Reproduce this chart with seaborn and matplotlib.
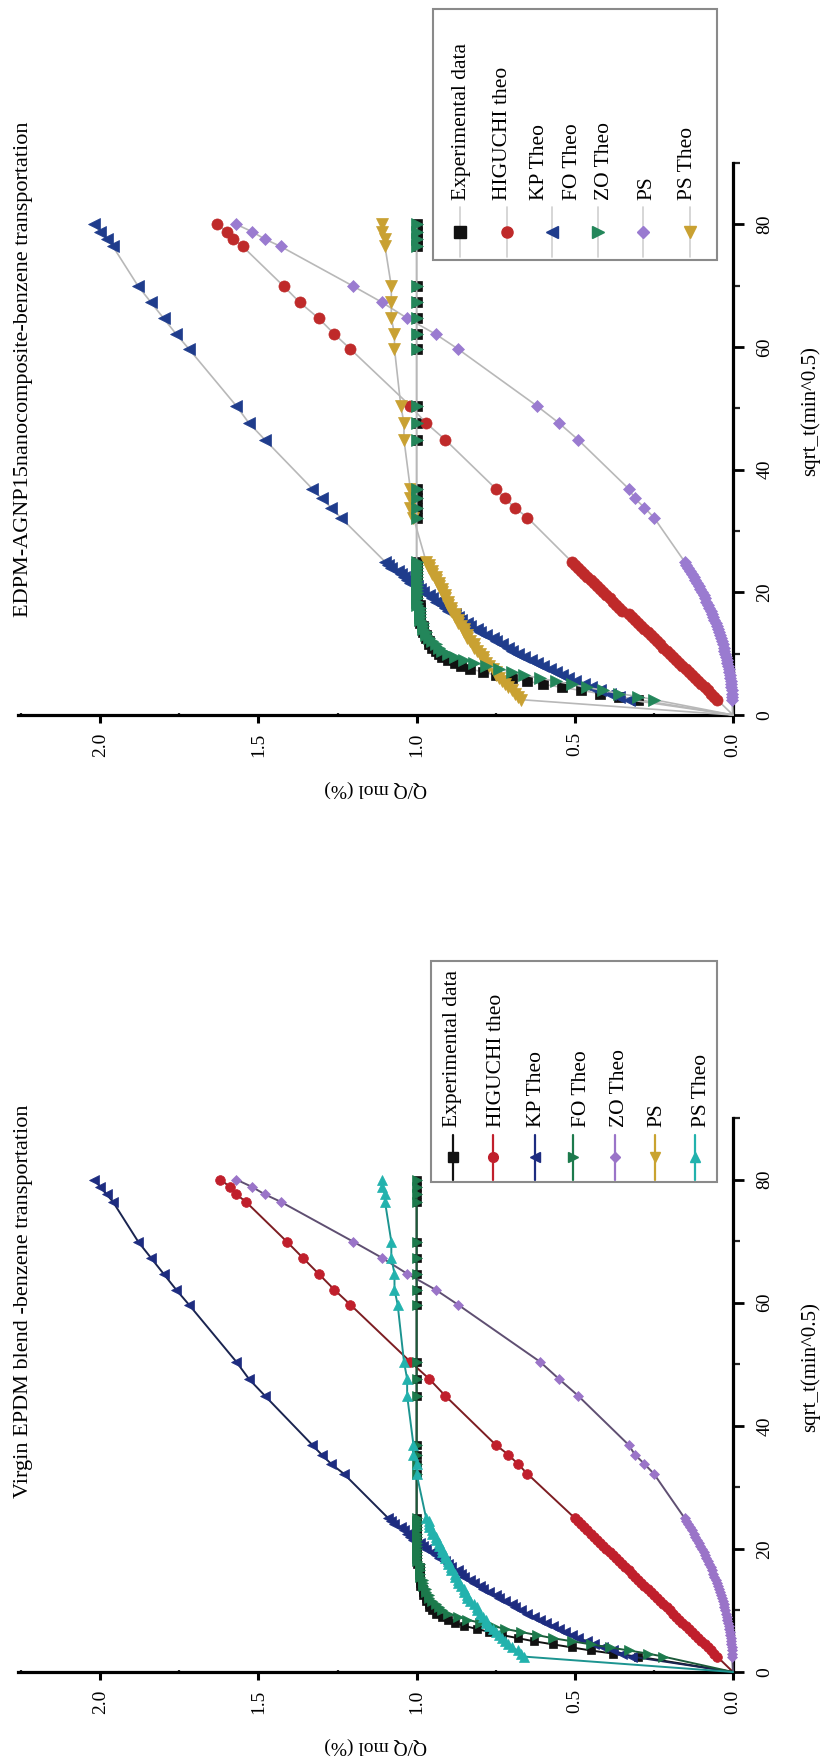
import matplotlib.pyplot as plt
import seaborn as sns
from matplotlib.patches import Rectangle
from matplotlib.ticker import MultipleLocator

# sqrt of time, shared by every series (first point is the origin)
sqrt_t = [0,
          2.5, 3.0, 3.5, 4.0, 4.5, 5.0, 5.5, 6.0, 6.5, 7.0, 7.5, 8.0, 8.5, 9.0, 9.5,
          10.0, 10.5, 11.0, 11.5, 12.0, 12.5, 13.0, 13.5, 14.0, 14.5, 15.0, 15.5,
          16.0, 16.5, 17.0, 17.5, 18.0, 18.5, 19.0, 19.5, 20.0, 20.5, 21.0, 21.5,
          22.0, 22.5, 23.0, 23.5, 24.0, 24.5, 25.0,
          32.2, 33.8, 35.3, 36.9, 44.9, 47.6, 50.4, 59.7, 62.1, 64.7, 67.3, 69.9,
          76.4, 77.6, 78.8, 80.0]

# ---- EDPM-AGNP15 panel ----
exp_agnp = [0,
            0.30, 0.36, 0.42, 0.48, 0.54, 0.60, 0.65, 0.70, 0.75, 0.79, 0.83, 0.86,
            0.88, 0.90, 0.92, 0.93, 0.94, 0.95, 0.96, 0.96, 0.97, 0.97, 0.98, 0.98,
            0.98, 0.99, 0.99, 0.99, 0.99, 0.99, 0.99, 0.99, 1.00, 1.00, 1.00, 1.00,
            1.00, 1.00, 1.00, 1.00, 1.00, 1.00, 1.00, 1.00, 1.00, 1.00,
            1.00, 1.00, 1.00, 1.00, 1.00, 1.00, 1.00, 1.00, 1.00, 1.00, 1.00, 1.00,
            1.00, 1.00, 1.00, 1.00]
higuchi_agnp = [0,
                0.05, 0.06, 0.07, 0.08, 0.09, 0.10, 0.11, 0.12, 0.13, 0.14, 0.15, 0.16,
                0.17, 0.18, 0.19, 0.20, 0.21, 0.22, 0.23, 0.24, 0.25, 0.26, 0.27, 0.28,
                0.29, 0.30, 0.31, 0.32, 0.33, 0.35, 0.36, 0.37, 0.38, 0.39, 0.40, 0.41,
                0.42, 0.43, 0.44, 0.45, 0.46, 0.47, 0.48, 0.49, 0.50, 0.51,
                0.65, 0.69, 0.72, 0.75, 0.91, 0.97, 1.02, 1.21, 1.26, 1.31, 1.37, 1.42,
                1.55, 1.58, 1.60, 1.63]
kp_agnp = [0,
           0.33, 0.36, 0.39, 0.42, 0.45, 0.47, 0.50, 0.52, 0.54, 0.56, 0.58, 0.60,
           0.62, 0.64, 0.66, 0.68, 0.70, 0.71, 0.73, 0.75, 0.76, 0.78, 0.80, 0.81,
           0.83, 0.84, 0.86, 0.87, 0.88, 0.90, 0.91, 0.92, 0.94, 0.95, 0.96, 0.98,
           0.99, 1.00, 1.02, 1.03, 1.04, 1.05, 1.06, 1.08, 1.09, 1.10,
           1.24, 1.27, 1.30, 1.33, 1.48, 1.53, 1.57, 1.72, 1.76, 1.80, 1.84, 1.88,
           1.96, 1.98, 2.00, 2.02]
fo_agnp = [0,
           0.25, 0.30, 0.36, 0.41, 0.46, 0.51, 0.56, 0.61, 0.66, 0.70, 0.74, 0.78,
           0.82, 0.85, 0.88, 0.90, 0.92, 0.93, 0.94, 0.95, 0.96, 0.97, 0.97, 0.98,
           0.98, 0.98, 0.99, 0.99, 0.99, 0.99, 0.99, 1.00, 1.00, 1.00, 1.00, 1.00,
           1.00, 1.00, 1.00, 1.00, 1.00, 1.00, 1.00, 1.00, 1.00, 1.00,
           1.00, 1.00, 1.00, 1.00, 1.00, 1.00, 1.00, 1.00, 1.00, 1.00, 1.00, 1.00,
           1.00, 1.00, 1.00, 1.00]
zo_agnp = [0,
           0.002, 0.002, 0.003, 0.004, 0.005, 0.006, 0.007, 0.009, 0.010, 0.012,
           0.014, 0.016, 0.018, 0.020, 0.022, 0.025, 0.027, 0.030, 0.032, 0.035,
           0.038, 0.041, 0.045, 0.048, 0.052, 0.055, 0.059, 0.063, 0.067, 0.071,
           0.075, 0.079, 0.084, 0.088, 0.093, 0.098, 0.103, 0.108, 0.113, 0.119,
           0.124, 0.130, 0.135, 0.141, 0.147, 0.153,
           0.25, 0.28, 0.31, 0.33, 0.49, 0.55, 0.62, 0.87, 0.94, 1.03, 1.11, 1.20,
           1.43, 1.48, 1.52, 1.57]
ps_agnp = [0,
           0.67, 0.68, 0.69, 0.70, 0.71, 0.72, 0.73, 0.74, 0.75, 0.75, 0.76, 0.77,
           0.78, 0.79, 0.79, 0.80, 0.81, 0.82, 0.82, 0.83, 0.84, 0.84, 0.85, 0.85,
           0.86, 0.87, 0.87, 0.88, 0.88, 0.89, 0.89, 0.90, 0.90, 0.91, 0.91, 0.92,
           0.92, 0.93, 0.93, 0.94, 0.94, 0.95, 0.95, 0.96, 0.96, 0.97,
           1.01, 1.02, 1.02, 1.02, 1.04, 1.04, 1.05, 1.07, 1.07, 1.08, 1.08, 1.08,
           1.10, 1.10, 1.11, 1.11]

# ---- Virgin EPDM panel ----
exp_virgin = [0,
              0.30, 0.38, 0.45, 0.51, 0.57, 0.63, 0.68, 0.73, 0.77, 0.81, 0.85, 0.88,
              0.90, 0.92, 0.94, 0.95, 0.96, 0.96, 0.97, 0.97, 0.98, 0.98, 0.98, 0.99,
              0.99, 0.99, 0.99, 0.99, 0.99, 0.99, 1.00, 1.00, 1.00, 1.00, 1.00, 1.00,
              1.00, 1.00, 1.00, 1.00, 1.00, 1.00, 1.00, 1.00, 1.00, 1.00,
              1.00, 1.00, 1.00, 1.00, 1.00, 1.00, 1.00, 1.00, 1.00, 1.00, 1.00, 1.00,
              1.00, 1.00, 1.00, 1.00]
higuchi_virgin = [0,
                  0.05, 0.06, 0.07, 0.08, 0.09, 0.10, 0.11, 0.12, 0.13, 0.14, 0.15, 0.16,
                  0.17, 0.18, 0.19, 0.20, 0.21, 0.22, 0.23, 0.24, 0.25, 0.26, 0.27, 0.28,
                  0.29, 0.30, 0.31, 0.32, 0.33, 0.34, 0.35, 0.36, 0.37, 0.38, 0.39, 0.40,
                  0.41, 0.42, 0.43, 0.44, 0.45, 0.46, 0.47, 0.48, 0.49, 0.50,
                  0.65, 0.68, 0.71, 0.75, 0.91, 0.96, 1.02, 1.21, 1.26, 1.31, 1.36, 1.41,
                  1.54, 1.57, 1.59, 1.62]
kp_virgin = [0,
             0.32, 0.35, 0.38, 0.41, 0.44, 0.46, 0.49, 0.51, 0.53, 0.55, 0.57, 0.59,
             0.61, 0.63, 0.65, 0.67, 0.69, 0.70, 0.72, 0.74, 0.75, 0.77, 0.79, 0.80,
             0.82, 0.83, 0.85, 0.86, 0.87, 0.89, 0.90, 0.91, 0.93, 0.94, 0.95, 0.97,
             0.98, 0.99, 1.01, 1.02, 1.03, 1.04, 1.05, 1.07, 1.08, 1.09,
             1.23, 1.27, 1.30, 1.33, 1.48, 1.53, 1.57, 1.72, 1.76, 1.80, 1.84, 1.88,
             1.96, 1.98, 2.00, 2.02]
fo_virgin = [0,
             0.22, 0.27, 0.33, 0.39, 0.45, 0.51, 0.57, 0.62, 0.67, 0.72, 0.76, 0.80,
             0.84, 0.87, 0.90, 0.92, 0.93, 0.94, 0.95, 0.96, 0.96, 0.97, 0.97, 0.98,
             0.98, 0.98, 0.99, 0.99, 0.99, 0.99, 0.99, 1.00, 1.00, 1.00, 1.00, 1.00,
             1.00, 1.00, 1.00, 1.00, 1.00, 1.00, 1.00, 1.00, 1.00, 1.00,
             1.00, 1.00, 1.00, 1.00, 1.00, 1.00, 1.00, 1.00, 1.00, 1.00, 1.00, 1.00,
             1.00, 1.00, 1.00, 1.00]
zo_virgin = [0,
             0.002, 0.002, 0.003, 0.004, 0.005, 0.006, 0.007, 0.009, 0.010, 0.012,
             0.014, 0.016, 0.018, 0.020, 0.022, 0.025, 0.027, 0.030, 0.032, 0.035,
             0.038, 0.041, 0.045, 0.048, 0.052, 0.055, 0.059, 0.063, 0.067, 0.071,
             0.075, 0.079, 0.084, 0.088, 0.093, 0.098, 0.103, 0.108, 0.113, 0.119,
             0.124, 0.130, 0.135, 0.141, 0.147, 0.153,
             0.25, 0.28, 0.31, 0.33, 0.49, 0.55, 0.61, 0.87, 0.94, 1.03, 1.11, 1.20,
             1.43, 1.48, 1.52, 1.57]
pstheo_virgin = [0,
                 0.66, 0.67, 0.68, 0.70, 0.71, 0.72, 0.73, 0.74, 0.75, 0.76, 0.77, 0.78,
                 0.78, 0.79, 0.80, 0.81, 0.81, 0.82, 0.83, 0.84, 0.84, 0.85, 0.85, 0.86,
                 0.87, 0.87, 0.88, 0.88, 0.89, 0.89, 0.90, 0.90, 0.91, 0.91, 0.92, 0.92,
                 0.93, 0.93, 0.94, 0.94, 0.95, 0.95, 0.96, 0.96, 0.96, 0.97,
                 1.00, 1.00, 1.01, 1.01, 1.03, 1.03, 1.04, 1.06, 1.07, 1.07, 1.08, 1.08,
                 1.10, 1.10, 1.11, 1.11]

legend_labels = ["Experimental data", "HIGUCHI theo", "KP Theo", "FO Theo",
                 "ZO Theo", "PS", "PS Theo"]
q_ticks = [0, 0.5, 1.0, 1.5, 2.0]
q_ticklabels = ["0.0", "0.5", "1.0", "1.5", "2.0"]
t_ticks = [0, 20, 40, 60, 80]
t_ticklabels = ["0", "20", "40", "60", "80"]

sns.set_theme(style="white")
plt.rcParams['font.family'] = ['Liberation Serif', 'DejaVu Serif']

W, H = 823, 1760
fig = plt.figure(figsize=(W / 100, H / 100), dpi=100)
ax_top = fig.add_axes([18 / W, 1 - 715 / H, 715 / W, 552 / H])
ax_bot = fig.add_axes([18 / W, 1 - 1672 / H, 715 / W, 554 / H])


def draw_series(ax, q, mcolor, lcolor, marker, ms, lw):
    sns.lineplot(x=q, y=sqrt_t, ax=ax, sort=False, estimator=None,
                 color=lcolor, lw=lw, marker=marker, markersize=ms,
                 markerfacecolor=mcolor, markeredgecolor=mcolor,
                 markeredgewidth=0.5, markevery=list(range(1, len(sqrt_t))),
                 clip_on=False, zorder=3)


def style_axes(ax):
    ax.set_xlim(2.26, 0)
    ax.set_ylim(0, 90)
    for s in ["top", "left"]:
        ax.spines[s].set_visible(False)
    for s in ["bottom", "right"]:
        ax.spines[s].set_color("black")
        ax.spines[s].set_linewidth(2.3)
    ax.set_xticks(q_ticks)
    ax.set_xticklabels(q_ticklabels, rotation=90, ha="center", va="top")
    ax.yaxis.tick_right()
    ax.set_yticks(t_ticks)
    ax.set_yticklabels(t_ticklabels, rotation=90, ha="left", va="center")
    ax.xaxis.set_minor_locator(MultipleLocator(0.25))
    ax.yaxis.set_minor_locator(MultipleLocator(10))
    ax.tick_params(axis="x", which="major", direction="out", length=6, width=2.2,
                   pad=6.5, labelsize=14, colors="black", bottom=True)
    ax.tick_params(axis="x", which="minor", direction="inout", length=3, width=1.6,
                   bottom=True)
    ax.tick_params(axis="y", which="major", direction="out", length=8, width=2,
                   pad=9, labelsize=14, colors="black", right=True, left=False,
                   labelright=True, labelleft=False)
    ax.tick_params(axis="y", which="minor", direction="out", length=5, width=1.6,
                   right=True, left=False)
    ax.set_xlabel("Q/Q mol (%)", rotation=180, fontsize=14, color="black")
    ax.xaxis.set_label_coords(0.5, -65 / 552)
    ax.yaxis.set_label_position("right")
    ax.set_ylabel("sqrt_t(min^0.5)", fontsize=15, color="black")
    ax.yaxis.set_label_coords(1 + 67 / 715, 0.55)
    ax.patch.set_alpha(0)


# top panel: grey connecting lines, coloured markers
grey = "#b8b8b8"
draw_series(ax_top, exp_agnp, "#111111", grey, "s", 7, 1.2)
draw_series(ax_top, higuchi_agnp, "#bf2a2a", grey, "o", 8, 1.2)
draw_series(ax_top, zo_agnp, "#9a7bd0", grey, "D", 6, 1.2)
draw_series(ax_top, kp_agnp, "#1f3c8c", grey, "<", 8.5, 1.2)
draw_series(ax_top, ps_agnp, "#c9a132", grey, "v", 8.5, 1.2)
draw_series(ax_top, fo_agnp, "#23865a", grey, ">", 8.5, 1.2)
style_axes(ax_top)

# bottom panel: coloured connecting lines
draw_series(ax_bot, exp_virgin, "#111111", "#111111", "s", 6, 1.4)
draw_series(ax_bot, higuchi_virgin, "#c01f2c", "#7d1d22", "o", 7, 1.4)
draw_series(ax_bot, zo_virgin, "#9a74c8", "#5f4f72", "D", 5.5, 1.4)
draw_series(ax_bot, kp_virgin, "#1d2c80", "#1a2450", "<", 7.5, 1.4)
draw_series(ax_bot, fo_virgin, "#1c7a4c", "#1c5a3a", ">", 7.5, 1.4)
draw_series(ax_bot, pstheo_virgin, "#22b2ad", "#1c9490", "^", 7.5, 1.4)
style_axes(ax_bot)

# overlay in pixel units for the rotated titles and legends
ov = fig.add_axes([0, 0, 1, 1], zorder=5)
ov.set_xlim(0, W)
ov.set_ylim(H, 0)
ov.axis("off")

ov.text(24, 617, "EDPM-AGNP15nanocomposite-benzene transportation", rotation=90,
        ha="center", va="bottom", fontsize=16, color="black")
ov.text(24, 1498, "Virgin EPDM blend -benzene transportation", rotation=90,
        ha="center", va="bottom", fontsize=16, color="black")

# top legend (six markers for seven labels, as in the original)
ov.add_patch(Rectangle((433, 9), 284, 251, facecolor="white", edgecolor="#8a8a8a", lw=1.5))
top_mk = [("s", "#111111"), ("o", "#bf2a2a"), ("<", "#1f3c8c"),
          (">", "#23865a"), ("D", "#9a7bd0"), ("v", "#c9a132")]
top_mx = [460, 507, 552, 598, 643, 690]
for (m, c), x in zip(top_mk, top_mx):
    ov.plot([x, x], [207, 257], color="#cfcfcf", lw=1.2)
    ov.plot([x], [232], marker=m, ms=8 if m != "D" else 6.5, color=c, mec=c)
for lab, x in zip(legend_labels, [462, 503, 540, 573, 605, 647, 688]):
    ov.text(x, 200, lab, rotation=90, ha="center", va="bottom", fontsize=15.5,
            color="black")

# bottom legend
ov.add_patch(Rectangle((431, 961), 286, 221, facecolor="white", edgecolor="#8a8a8a", lw=1.5))
bot_mk = [("s", "#111111"), ("o", "#c01f2c"), ("<", "#1d2c80"), (">", "#1c7a4c"),
          ("D", "#9a74c8"), ("v", "#c9a330"), ("^", "#22b2ad")]
bot_mx = [453, 493, 535, 573, 615, 655, 695]
for (m, c), x in zip(bot_mk, bot_mx):
    ov.plot([x, x], [1135, 1180], color=c, lw=1.6)
    ov.plot([x], [1157], marker=m, ms=7 if m != "D" else 5.5, color=c, mec=c)
for lab, x in zip(legend_labels, [453, 497, 537, 582, 620, 657, 702]):
    ov.text(x, 1127, lab, rotation=90, ha="center", va="bottom", fontsize=15.5,
            color="black")

fig.savefig("out.png", dpi=100, facecolor="white")
